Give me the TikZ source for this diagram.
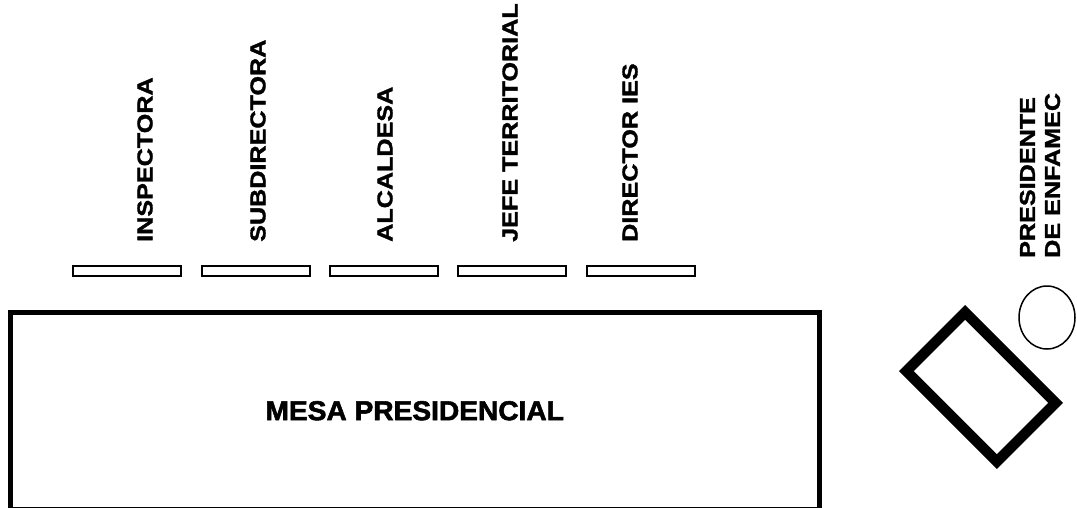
\documentclass[tikz,border=0pt]{standalone}
\usepackage{fontspec}
\setmainfont{Liberation Sans}
\newfontfamily\widefont{Liberation Sans}[FakeStretch=1.17, FakeBold=1.5]
\newfontfamily\heavyfont{Liberation Sans}[FakeStretch=1.03, FakeBold=2]
\usetikzlibrary{shapes.geometric}

\begin{document}
\begin{tikzpicture}[x=1pt, y=-1pt,
  chair/.style={draw, rectangle, line width=2pt, minimum width=108pt, minimum height=10pt, inner sep=0pt},
  guest/.style={rotate=90, anchor=west, inner sep=0pt, font=\widefont\bfseries\fontsize{21.5}{25}\selectfont}]

\useasboundingbox (0,0) rectangle (1077,507);

% presidential table
\node[draw, rectangle, line width=5pt, minimum width=808.5pt, minimum height=196.5pt, inner sep=0pt,
      font=\heavyfont\bfseries\fontsize{27.3}{30}\selectfont] at (414.75,410.75) (mesa) {MESA PRESIDENCIAL};

% chairs behind the table
\node[chair] at (127,271) (chair1) {};
\node[chair] at (255.5,271) (chair2) {};
\node[chair] at (383.5,271) (chair3) {};
\node[chair] at (512,271) (chair4) {};
\node[chair] at (640.5,271) (chair5) {};

% who sits where
\node[guest] at (145,242) (inspectora) {INSPECTORA};
\node[guest] at (258,242) (subdirectora) {SUBDIRECTORA};
\node[guest] at (385,242) (alcaldesa) {ALCALDESA};
\node[guest] at (510,242) (jefe) {JEFE TERRITORIAL};
\node[guest] at (630,242) (director) {DIRECTOR IES};

% side table and chair of the president
\node[draw, rectangle, line width=10.5pt, minimum width=128pt, minimum height=83pt, rotate=-45] at (981,387) (sidetable) {};
\node[draw, ellipse, line width=1.5pt, minimum width=56pt, minimum height=63pt, inner sep=0pt] at (1047,317.5) (sidechair) {};
\node[guest, align=left] at (1040,258) (presidente) {PRESIDENTE\\DE ENFAMEC};

\end{tikzpicture}
\end{document}
